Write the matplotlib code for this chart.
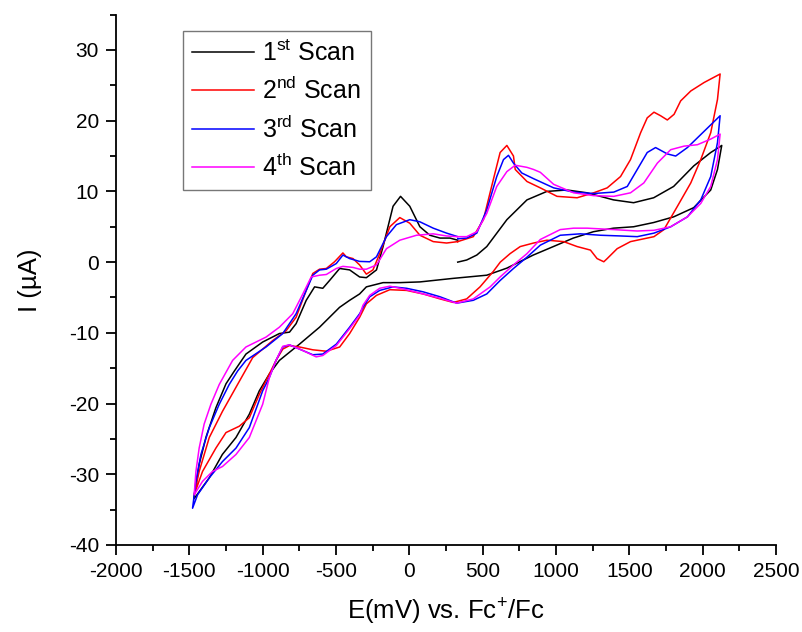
import matplotlib
matplotlib.use('Agg')
import matplotlib.pyplot as plt
from matplotlib.ticker import MultipleLocator

plt.rcParams['font.family'] = ['Liberation Sans', 'DejaVu Sans']
plt.rcParams['mathtext.fontset'] = 'custom'
plt.rcParams['mathtext.rm'] = 'Liberation Sans'
plt.rcParams['axes.unicode_minus'] = False

# Scan 1: 330 -> 2130 -> -1470 -> 330 mV
scan1_E = [330, 391, 460, 528, 665, 802, 938, 1075, 1212, 1392, 1529, 1666, 1802, 1939, 2055, 2124,
           2130, 2101, 2055, 1939, 1802, 1666, 1529, 1392, 1255, 1118, 982, 845, 665, 528, 298, 72,
           -65, -179, -293, -339, -407, -476, -612, -749, -886, -954, -1023, -1091, -1182, -1275,
           -1364, -1455, -1470,
           -1433, -1387, -1319, -1250, -1193, -1114, -1000, -886, -817, -772, -703, -646, -590,
           -544, -475, -407, -339, -293, -224, -179, -111, -60, 3, 72, 140, 209, 277, 330]
scan1_I = [0.0, 0.3, 1.0, 2.2, 6.0, 8.8, 10.0, 10.2, 9.8, 8.8, 8.4, 9.1, 10.7, 13.6, 15.5, 16.4,
           16.5, 13.1, 10.2, 7.7, 6.4, 5.6, 5.0, 4.8, 4.3, 3.4, 2.2, 1.0, -0.85, -1.85, -2.3, -2.8,
           -2.9, -2.9, -3.5, -4.5, -5.4, -6.4, -9.2, -11.6, -13.9, -15.8, -18.2, -21.5, -24.8, -27.2,
           -30.5, -33.1, -33.5,
           -28.6, -24.8, -20.6, -17.2, -15.4, -13.0, -11.3, -10.1, -9.9, -8.7, -5.4, -3.5, -3.7,
           -2.6, -0.9, -1.1, -2.1, -2.2, -1.1, 2.2, 7.9, 9.3, 7.9, 5.0, 3.8, 3.4, 3.4, 3.1]

# Scan 2
scan2_E = [330, 436, 505, 573, 619, 665, 710, 722, 802, 893, 1007, 1144, 1257, 1349, 1440, 1508,
           1577, 1622, 1668, 1713, 1759, 1805, 1850, 1919, 2010, 2119,
           2101, 2055, 1987, 1919, 1828, 1736, 1668, 1622, 1508, 1417, 1349, 1326, 1280, 1235,
           1144, 1052, 938, 847, 756, 687, 620, 573, 482, 391, 300, 209, 94, -19, -133, -224,
           -293, -339, -407, -475, -566, -658, -749, -817, -863, -909, -954, -1023, -1091,
           -1159, -1250, -1319, -1410, -1467,
           -1433, -1364, -1274, -1182, -1068, -932, -840, -772, -703, -658, -612, -566, -510,
           -453, -430, -384, -339, -293, -248, -202, -133, -65, 3, 72, 163, 254, 330]
scan2_I = [2.9, 3.6, 6.0, 11.7, 15.5, 16.5, 15.0, 13.1, 11.4, 10.5, 9.3, 9.1, 9.8, 10.5, 12.1, 14.5,
           18.3, 20.4, 21.2, 20.7, 20.1, 20.9, 22.8, 24.2, 25.4, 26.6,
           23.0, 18.3, 14.5, 11.2, 7.9, 4.6, 3.6, 3.4, 2.9, 1.9, 0.5, 0.05, 0.5, 1.7,
           2.2, 2.9, 3.1, 2.7, 2.2, 1.2, 0.0, -1.3, -3.5, -5.2, -5.7, -5.2, -4.5, -4.0, -3.9, -4.7,
           -5.9, -7.8, -10.1, -12.0, -12.6, -12.4, -12.0, -11.8, -12.3, -13.9, -15.8, -18.7, -22.0,
           -23.2, -24.1, -26.3, -29.6, -32.9,
           -29.6, -24.8, -21.1, -17.7, -13.5, -11.1, -9.7, -7.8, -4.0, -1.6, -1.0, -0.9, 0.05,
           1.3, 0.75, 0.5, -0.4, -1.7, -1.1, 1.2, 5.0, 6.3, 5.5, 3.8, 2.9, 2.7, 2.9]

# Scan 3
scan3_E = [330, 391, 460, 528, 596, 642, 676, 710, 767, 847, 984, 1120, 1257, 1394, 1486, 1554,
           1622, 1679, 1759, 1816, 1896, 2010, 2119,
           2101, 2055, 1987, 1896, 1782, 1668, 1554, 1440, 1303, 1166, 1029, 893, 802, 710, 619,
           528, 436, 323, 209, 94, -19, -111, -202, -270, -316, -339, -407, -498, -590, -658,
           -749, -817, -863, -909, -954, -1000, -1091, -1182, -1274, -1364, -1444, -1478,
           -1455, -1421, -1364, -1296, -1228, -1171, -1114, -977, -863, -772, -703, -658, -612,
           -566, -498, -453, -407, -339, -270, -224, -156, -88, 3, 72, 163, 254, 330]
scan3_I = [3.3, 3.4, 4.1, 7.4, 12.1, 14.5, 15.1, 14.0, 12.6, 11.8, 10.5, 9.9, 9.7, 9.9, 10.7, 13.1,
           15.5, 16.2, 15.3, 15.0, 16.2, 18.5, 20.7,
           16.9, 12.1, 8.8, 6.4, 5.0, 4.1, 3.6, 3.7, 3.8, 4.0, 3.8, 2.4, 0.7, -0.9, -2.6,
           -4.5, -5.4, -5.8, -4.9, -4.2, -3.7, -3.5, -4.0, -4.9, -6.4, -7.3, -9.2, -11.6, -13.0, -13.1,
           -12.3, -11.7, -12.0, -13.9, -16.3, -18.2, -23.4, -26.3, -28.2, -30.5, -32.9, -34.8,
           -31.0, -27.2, -23.4, -20.1, -17.3, -15.4, -13.9, -12.0, -10.1, -7.3, -4.0, -1.85, -1.1,
           -1.0, -0.2, 1.0, 0.5, 0.1, 0.05, 0.75, 3.6, 5.3, 6.0, 5.7, 4.8, 4.1, 3.6]

# Scan 4
scan4_E = [330, 391, 460, 528, 596, 665, 722, 802, 847, 893, 984, 1120, 1257, 1394, 1508, 1599,
           1691, 1782, 1873, 1964, 2055, 2119,
           2101, 2055, 1987, 1896, 1782, 1668, 1554, 1394, 1212, 1120, 1029, 893, 802, 710, 619,
           551, 436, 323, 209, 94, -19, -133, -202, -270, -316, -339, -407, -498, -590, -635,
           -726, -817, -863, -909, -954, -1000, -1091, -1182, -1274, -1342, -1410, -1467,
           -1455, -1433, -1399, -1353, -1296, -1205, -1114, -977, -886, -795, -726, -669, -612,
           -566, -498, -453, -384, -339, -293, -224, -156, -65, 49, 163, 254, 323]
scan4_I = [3.6, 3.6, 4.3, 6.9, 10.7, 12.8, 13.7, 13.4, 13.1, 12.7, 11.0, 9.8, 9.4, 9.3, 9.8, 11.2,
           14.0, 15.9, 16.4, 16.6, 17.4, 18.1,
           14.5, 10.7, 8.3, 6.4, 5.0, 4.5, 4.4, 4.6, 4.8, 4.8, 4.6, 3.2, 1.2, -0.4, -2.1,
           -3.5, -5.2, -5.8, -5.1, -4.5, -3.9, -3.4, -3.7, -4.7, -6.1, -7.5, -9.4, -11.8, -13.2, -13.4,
           -12.5, -11.7, -11.9, -13.9, -16.3, -20.1, -24.8, -27.2, -28.9, -29.6, -31.0, -32.9,
           -29.6, -26.3, -22.9, -20.1, -17.3, -13.9, -12.0, -10.6, -9.2, -7.3, -4.5, -2.1, -1.85,
           -1.75, -0.9, -0.6, -0.75, -1.0, -1.0, -0.4, 1.9, 3.1, 3.8, 4.0, 3.7, 3.6]

labels = [r'1$^{\mathrm{st}}$ Scan', r'2$^{\mathrm{nd}}$ Scan',
          r'3$^{\mathrm{rd}}$ Scan', r'4$^{\mathrm{th}}$ Scan']
colors = ['black', '#ff0000', '#0000ff', '#ff00ff']

fig = plt.figure(figsize=(8.02, 6.32), dpi=100)
ax = fig.add_axes([116 / 802, 87 / 632, 660 / 802, 530.4 / 632])

scans = [(scan1_E, scan1_I), (scan2_E, scan2_I), (scan3_E, scan3_I), (scan4_E, scan4_I)]
for (E, I), c, lab in zip(scans, colors, labels):
    ax.plot(E, I, color=c, lw=1.1, label=lab)

ax.set_xlim(-2000, 2500)
ax.set_ylim(-40, 35)
ax.set_xticks(range(-2000, 2501, 500))
ax.set_yticks(range(-40, 31, 10))
ax.xaxis.set_minor_locator(MultipleLocator(250))
ax.yaxis.set_minor_locator(MultipleLocator(5))
ax.spines['top'].set_visible(False)
ax.spines['right'].set_visible(False)
for s in ['left', 'bottom']:
    ax.spines[s].set_linewidth(1.3)
ax.tick_params(which='major', direction='out', length=7.2, width=1.3, labelsize=15, pad=5)
ax.tick_params(which='minor', direction='out', length=4.3, width=1.3)

ax.set_xlabel(r'E(mV) vs. Fc$^{+}$/Fc', fontsize=18.5, labelpad=10)
ax.set_ylabel('I (µA)', fontsize=18.5, labelpad=19)

# legend box placed where the original sits
leg = ax.legend(loc='upper left', bbox_to_anchor=(0.1015, 0.9698), borderaxespad=0,
                fontsize=18, frameon=True, fancybox=False, edgecolor='#555555',
                handlelength=2.48, handletextpad=0.32, borderpad=0.38, labelspacing=0.45)
leg.get_frame().set_linewidth(1.0)

fig.savefig('out.png', dpi=100)
